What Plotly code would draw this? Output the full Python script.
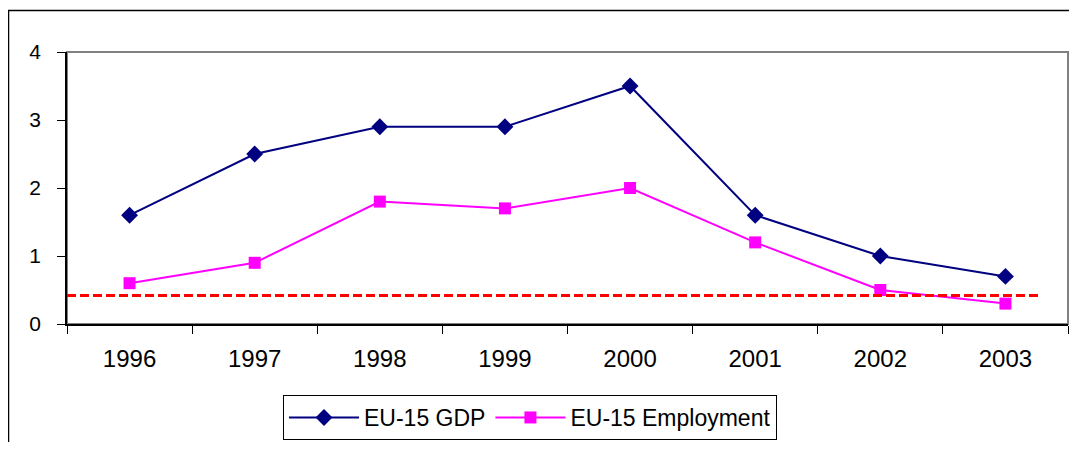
import plotly.graph_objects as go

years = ["1996", "1997", "1998", "1999", "2000", "2001", "2002", "2003"]
gdp = [1.6, 2.5, 2.9, 2.9, 3.5, 1.6, 1.0, 0.7]
employment = [0.6, 0.9, 1.8, 1.7, 2.0, 1.2, 0.5, 0.3]
threshold = 0.42

# page body has an 8px margin; the figure is sized to fit the 1077x450 window
OFF = 8
W, H = 1077 - 2 * OFF, 450 - 2 * OFF
L, T = 67 - OFF, 52 - OFF
R = (OFF + W) - 1068
ph = 324 - 52
B = H - T - ph
pw = W - L - R


def px_x(x):
    return (x - OFF - L) / pw


def px_y(y):
    return (OFF + T + ph - y) / ph


fig = go.Figure()
fig.add_trace(go.Scatter(x=years, y=gdp, name="EU-15 GDP", mode="lines+markers",
                         line=dict(color="#000080", width=2),
                         marker=dict(symbol="diamond", size=13, color="#000080")))
fig.add_trace(go.Scatter(x=years, y=employment, name="EU-15 Employment", mode="lines+markers",
                         line=dict(color="#FF00FF", width=2),
                         marker=dict(symbol="square", size=12, color="#FF00FF")))

shapes = [
    dict(type="rect", xref="paper", yref="paper", x0=0, x1=1, y0=0, y1=1,
         line=dict(color="#808080", width=2), layer="below"),
    dict(type="rect", xref="paper", yref="paper",
         x0=px_x(8.5), x1=px_x(1100),
         y0=px_y(480), y1=px_y(10.5),
         line=dict(color="black", width=1.5)),
    dict(type="line", xref="x", yref="y", x0=-0.5, x1=7.29, y0=threshold, y1=threshold,
         line=dict(color="#FF0000", width=3, dash="9px,4px")),
]

fig.update_layout(
    width=W, height=H, autosize=False,
    margin=dict(l=L, r=R, t=T, b=B, pad=0),
    paper_bgcolor="white", plot_bgcolor="white",
    font=dict(family="Liberation Sans, Arial, sans-serif", color="black"),
    shapes=shapes,
    showlegend=True,
    legend=dict(orientation="h", x=px_x(283), xanchor="left",
                y=px_y(395), yanchor="top",
                bordercolor="black", borderwidth=1, bgcolor="white",
                font=dict(size=23), itemwidth=70, tracegroupgap=0),
    xaxis=dict(type="category", range=[-0.5, 7.5], tickson="boundaries",
               ticks="outside", ticklen=8, tickcolor="black", tickwidth=1,
               showline=True, linecolor="black", linewidth=1.5,
               showgrid=False, zeroline=False,
               tickfont=dict(size=24), ticklabelstandoff=12),
    yaxis=dict(range=[0, 4], tickvals=[0, 1, 2, 3, 4], ticks="outside", ticklen=8,
               tickcolor="black", showline=True, linecolor="black", linewidth=1.5,
               showgrid=False, zeroline=False, tickfont=dict(size=21),
               ticklabelstandoff=12),
)

fig.write_html("out.html")
